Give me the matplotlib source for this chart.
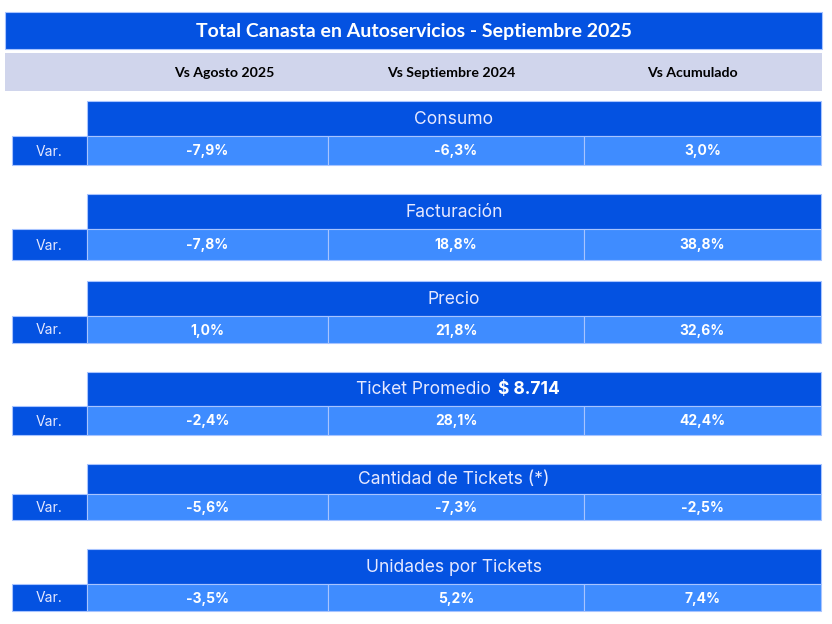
import matplotlib
matplotlib.use("Agg")
import matplotlib.pyplot as plt
from matplotlib.patches import Rectangle

# ------------------------------------------------------------------------------
# data
# ------------------------------------------------------------------------------
title = "Total Canasta en Autoservicios - Septiembre 2025"
columns = ["Vs Agosto 2025", "Vs Septiembre 2024", "Vs Acumulado"]
sections = ["Consumo", "Facturación", "Precio", "Ticket Promedio",
            "Cantidad de Tickets (*)", "Unidades por Tickets"]
row_label = "Var."
vs_agosto = ["-7,9%", "-7,8%", "1,0%", "-2,4%", "-5,6%", "-3,5%"]
vs_sept = ["-6,3%", "18,8%", "21,8%", "28,1%", "-7,3%", "5,2%"]
vs_acum = ["3,0%", "38,8%", "32,6%", "42,4%", "-2,5%", "7,4%"]
ticket_value = "$ 8.714"

# ------------------------------------------------------------------------------
# layout (pixel units, y downwards)
# ------------------------------------------------------------------------------
sec_top = [101, 194, 281, 372, 464, 549]
head_h = [35, 35, 35, 34, 30, 35]
var_h = [29, 31, 27, 29, 26, 27]
col_edges = [87, 328, 584, 821]
col_head_x = [224, 451, 692]

dark = "#0452E1"
light = "#3F8CFF"
grey = "#D0D5EC"
edge = "#A8C4FF"
head_txt = "#E6E8FF"

fig = plt.figure(figsize=(8.32, 6.24), dpi=100)
ax = fig.add_axes([0, 0, 1, 1])
ax.set_xlim(0, 832)
ax.set_ylim(624, 0)
ax.axis("off")

# title bar and column header bar
ax.add_patch(Rectangle((5, 12), 817, 37, fc=dark, ec=edge, lw=0.8))
ax.text(413.5, 31, title, ha="center", va="center", color="white",
        fontsize=14, fontweight="bold", family="Lato")
ax.add_patch(Rectangle((5, 53), 817, 38, fc=grey, ec="none"))
for x, c in zip(col_head_x, columns):
    ax.text(x, 73, c, ha="center", va="center", color="black",
            fontsize=10.2, fontweight="bold", family="Lato")

values = list(zip(vs_agosto, vs_sept, vs_acum))
for i, name in enumerate(sections):
    top = sec_top[i]
    vt = top + head_h[i]
    # section header
    ax.add_patch(Rectangle((col_edges[0], top), col_edges[-1] - col_edges[0],
                           head_h[i], fc=dark, ec=edge, lw=0.8))
    hc = (col_edges[0] + col_edges[-1]) / 2
    yc = top + head_h[i] / 2 + 1
    if name == "Ticket Promedio":
        ax.text(491, yc, name, ha="right", va="center", color=head_txt,
                fontsize=12.6, family="Inter")
        ax.text(498, yc, ticket_value, ha="left", va="center", color="white",
                fontsize=12.5, family="Inter", fontweight="bold")
    else:
        ax.text(hc, yc, name, ha="center", va="center", color=head_txt,
                fontsize=12.6, family="Inter")
    # var label
    ax.add_patch(Rectangle((12, vt), col_edges[0] - 12, var_h[i],
                           fc=dark, ec=edge, lw=0.8))
    ax.text(49.5, vt + var_h[i] / 2 + 1, row_label, ha="center", va="center",
            color=head_txt, fontsize=10, family="Inter")
    # values
    for j in range(3):
        x0, x1 = col_edges[j], col_edges[j + 1]
        ax.add_patch(Rectangle((x0, vt), x1 - x0, var_h[i],
                               fc=light, ec=edge, lw=0.8))
        ax.text((x0 + x1) / 2, vt + var_h[i] / 2 + 1, values[i][j],
                ha="center", va="center", color="white", fontsize=10,
                family="Inter", fontweight="bold")

plt.savefig("out.png", dpi=100, facecolor="white")
